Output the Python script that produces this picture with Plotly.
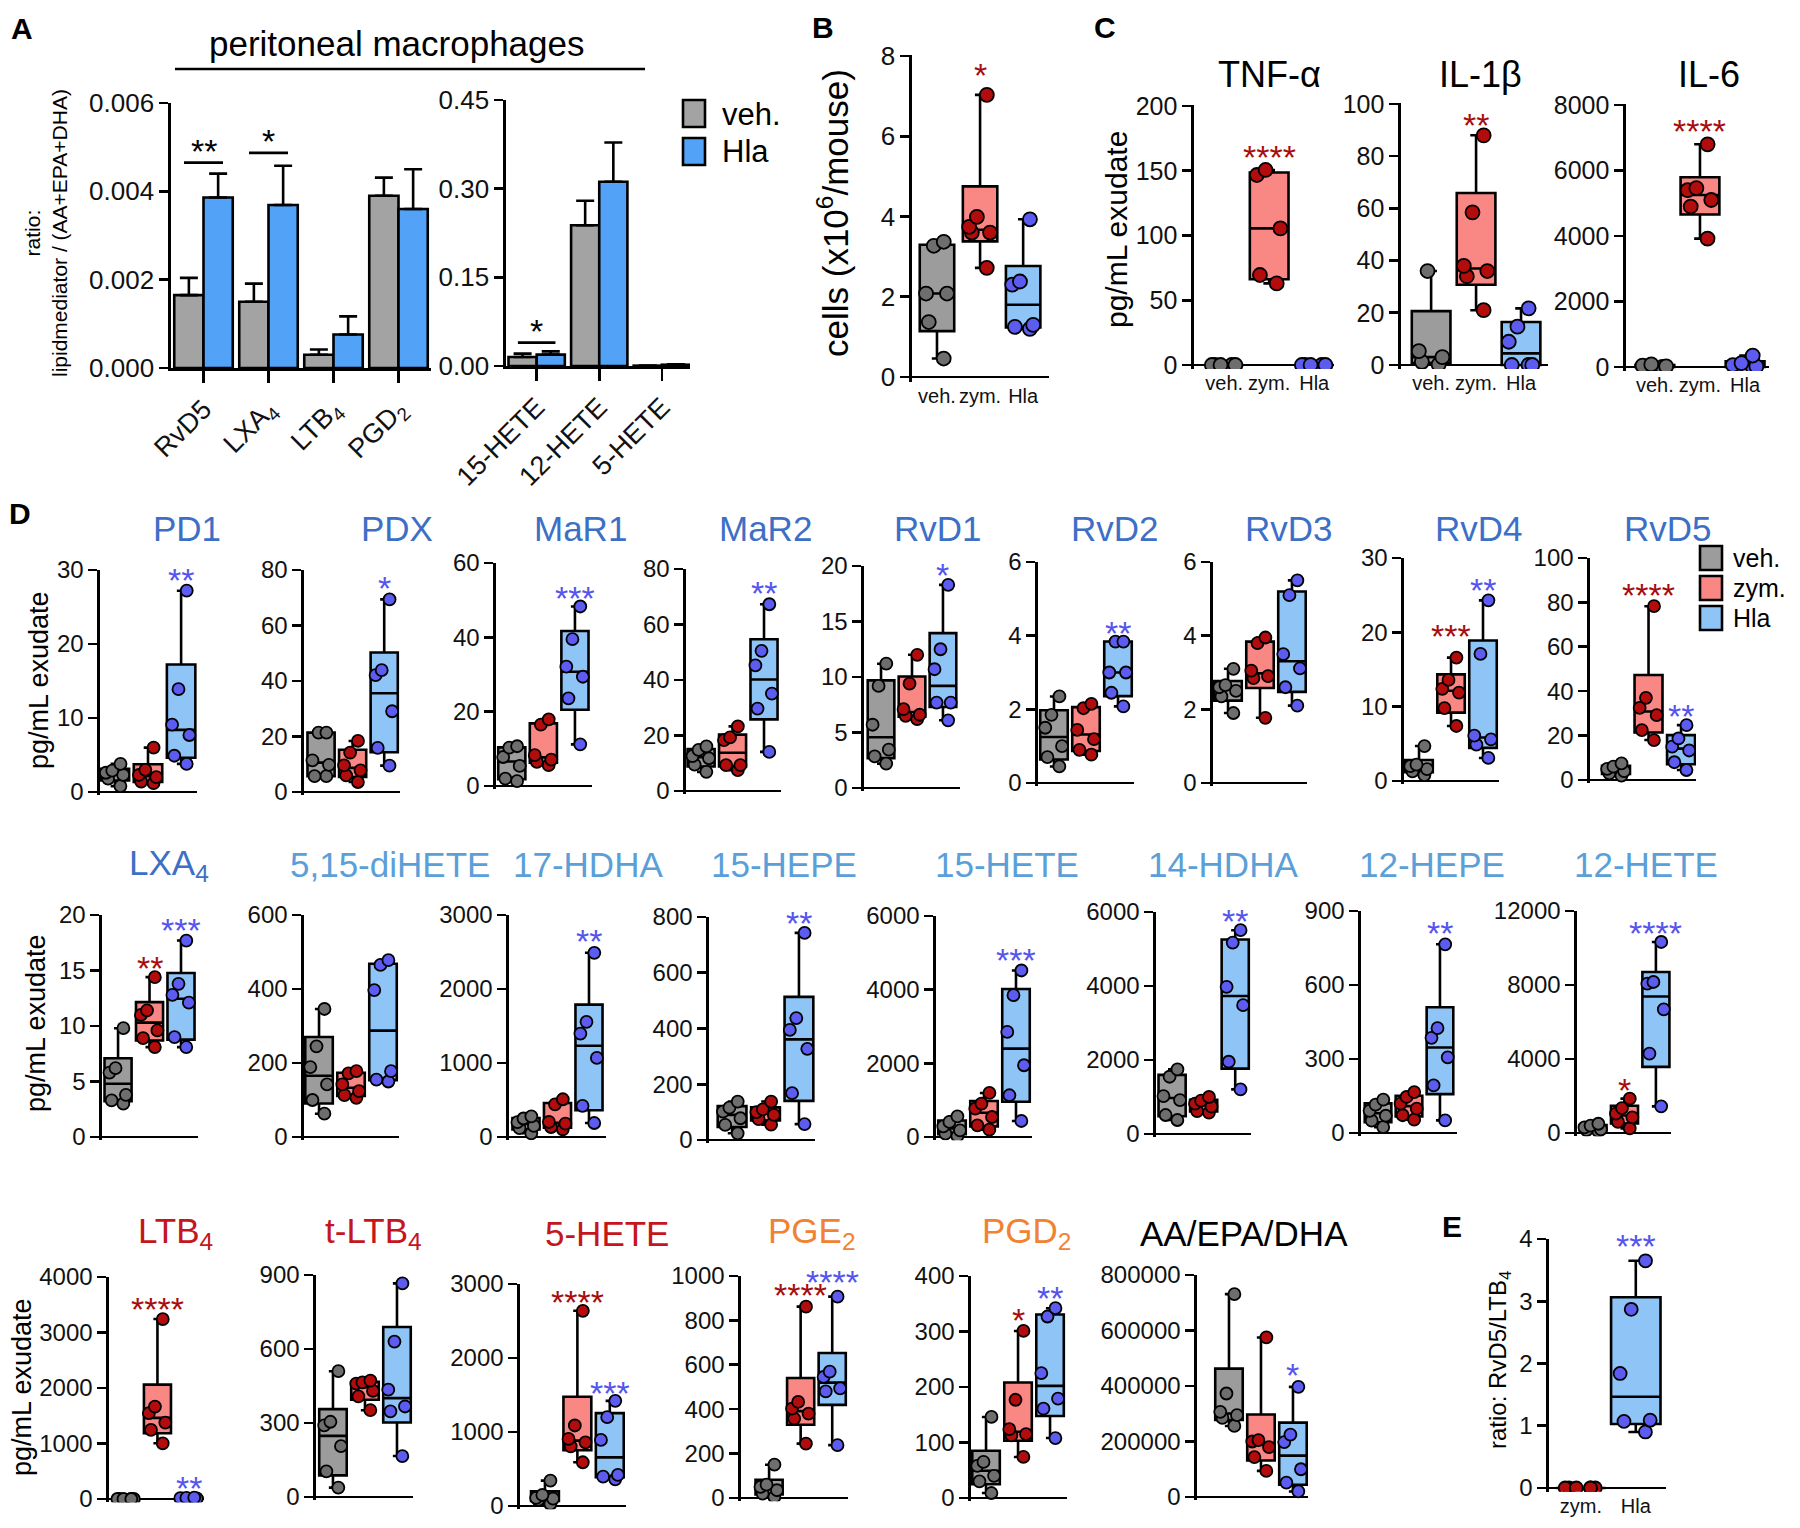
import numpy as np
import plotly.graph_objects as go

W, H = 1800, 1528
FONT = "Liberation Sans, Arial, sans-serif"

# ---------------- data ----------------
# A: ratio lipid mediator / (AA+EPA+DHA), mean with upper error
a_left_cats = ["RvD5", "LXA<sub>4</sub>", "LTB<sub>4</sub>", "PGD<sub>2</sub>"]
a_left_veh = [0.00165, 0.0015, 0.0003, 0.0039]
a_left_veh_err = [0.00039, 0.00041, 0.00012, 0.00041]
a_left_hla = [0.00386, 0.00369, 0.00076, 0.0036]
a_left_hla_err = [0.00054, 0.00089, 0.00041, 0.0009]
a_right_cats = ["15-HETE", "12-HETE", "5-HETE"]
a_right_veh = [0.0152, 0.238, 0.0006]
a_right_veh_err = [0.0057, 0.0415, 0.0]
a_right_hla = [0.0192, 0.3117, 0.0022]
a_right_hla_err = [0.0056, 0.0663, 0.0008]
a_left_sig = [(0, "**", 0.00465), (1, "*", 0.00487)]
a_right_sig = [(0, "*", 0.0395)]

# B: cells (x10^6/mouse)  [veh, zym, Hla]
cells = [[0.46, 1.37, 2.08, 2.08, 3.27, 3.37],
         [2.72, 3.6, 3.6, 3.74, 3.99, 7.03],
         [1.2, 1.25, 1.3, 2.3, 2.38, 3.93]]
# C: cytokines pg/mL
tnf = [[0, 0, 0, 0, 0], [63, 69.5, 105.5, 146.7, 150.6], [0, 0, 0, 0, 0]]
il1b = [[0.2, 1.2, 3.0, 5.3, 36], [21, 34, 36, 38, 58.5, 88], [0, 0, 0, 8.9, 14.7, 21.7]]
il6 = [[0, 10, 20, 40, 80], [3920, 4900, 5100, 5400, 5460, 6800], [0, 0, 20, 60, 120, 350]]

# D: pg/mL exudate  [veh, zym, Hla]
pd1 = [[0.8, 1.8, 2.3, 2.6, 2.9, 3.8], [1.2, 1.4, 2.0, 2.3, 3.0, 6.0], [3.8, 4.9, 7.7, 9.1, 13.9, 27.2]]
pdx = [[5.7, 5.7, 9.8, 11.4, 21.4, 21.4], [3.6, 6.0, 7.8, 9.6, 14.2, 18.4], [9.5, 15.9, 29.1, 42.1, 43.9, 69.4]]
mar1 = [[1.3, 2.0, 5.4, 7.8, 10.3, 10.7], [5.6, 6.5, 7.1, 8.3, 16.5, 17.9], [11.2, 23.6, 29.4, 32.1, 39.5, 48.3]]
mar2 = [[6.9, 9.5, 11.8, 12.6, 14.8, 16.1], [7.5, 9.3, 9.3, 18.3, 19.3, 23.3], [14.1, 29.7, 35.1, 45.3, 50.5, 67.3]]
rvd1 = [[2.2, 2.85, 3.45, 5.7, 9.2, 11.2], [6.2, 6.5, 6.6, 7.1, 9.4, 12.0], [6.1, 7.7, 7.7, 10.7, 12.5, 18.3]]
rvd2 = [[0.45, 0.7, 1.0, 1.5, 1.85, 2.35], [0.77, 0.9, 1.19, 1.44, 2.03, 2.15], [2.08, 2.45, 3.0, 3.0, 3.84, 3.84]]
rvd3 = [[1.9, 2.35, 2.5, 2.6, 2.66, 3.1], [1.77, 2.85, 2.9, 3.05, 3.8, 3.95], [2.1, 2.6, 3.11, 3.5, 5.1, 5.5]]
rvd4 = [[0.8, 1.3, 1.6, 2.0, 2.2, 4.7], [7.4, 9.8, 11.9, 12.4, 13.6, 16.6], [3.1, 4.9, 5.6, 6.1, 17.1, 24.3]]
rvd5 = [[2.0, 3.0, 4.0, 5.0, 6.0, 7.5], [18.0, 22.5, 29.2, 32.5, 37.0, 78.3], [4.5, 8.0, 13.3, 15.0, 18.7, 24.7]]
lxa4 = [[3.0, 3.3, 3.8, 5.8, 6.2, 9.8], [8.1, 8.9, 9.6, 11.0, 11.4, 14.4], [8.1, 9.0, 12.1, 12.8, 13.8, 17.7]]
dihete = [[63, 100, 142, 189, 245, 346], [106, 113, 124, 142, 172, 178], [150, 155, 178, 397, 465, 478]]
hdha17 = [[50, 120, 150, 200, 250, 280], [104, 135, 180, 203, 442, 510], [189, 420, 1069, 1398, 1556, 2489]]
hepe15 = [[24, 54, 78, 102, 116, 138], [55, 75, 90, 100, 110, 138], [57, 168, 327, 395, 437, 743]]
hete15 = [[27, 90, 181, 290, 408, 562], [199, 317, 543, 770, 906, 1196], [435, 1133, 1948, 2853, 3850, 4521]]
hdha14 = [[378, 513, 918, 1026, 1548, 1746], [580, 620, 740, 820, 900, 1000], [1206, 1953, 3483, 3978, 5175, 5508]]
hepe12 = [[24, 50, 70, 90, 115, 135], [54, 72, 99, 119, 146, 166], [51, 193, 307, 386, 425, 765]]
hete12 = [[100, 150, 200, 300, 400, 500], [250, 600, 850, 1050, 1350, 1856], [1441, 4289, 6685, 8073, 8163, 10325]]
ltb4 = [[0, 0, 0, 0, 0, 0], [1004, 1245, 1377, 1546, 1666, 3242], [0, 5, 10, 15, 20, 25]]
tltb4 = [[38, 104, 206, 290, 305, 510], [352, 408, 430, 460, 465, 472], [166, 347, 367, 435, 630, 866]]
hete5 = [[27, 81, 100, 110, 149, 343], [591, 807, 860, 907, 1088, 2638], [361, 397, 420, 893, 1200, 1421]]
pge2 = [[5, 20, 35, 50, 60, 150], [245, 358, 380, 403, 433, 862], [238, 480, 494, 545, 569, 907]]
pgd2 = [[9, 30, 40, 58, 65, 146], [74, 113, 115, 124, 177, 301], [108, 161, 179, 225, 327, 342]]
aaepadha = [[256000, 285000, 295000, 307000, 373000, 731000],
            [94000, 144000, 180000, 200000, 205000, 575000],
            [20000, 52000, 100000, 198000, 225000, 397000]]
# E: ratio RvD5/LTB4  [zym, Hla]
ratio_e = [[0, 0, 0, 0, 0, 0], [0.9, 1.07, 1.09, 1.84, 2.87, 3.65]]

group_labels = ["veh.", "zym.", "Hla"]

# significance stars: (group index, text, y value)
stars = {
    "cells": [(1, "*", 7.6)], "tnf": [(1, "****", 163)], "il1b": [(1, "**", 93)], "il6": [(1, "****", 7290)],
    "pd1": [(2, "**", 29)], "pdx": [(2, "*", 74.6)], "mar1": [(2, "***", 51.4)], "mar2": [(2, "**", 72.4)],
    "rvd1": [(2, "*", 19.5)], "rvd2": [(2, "**", 4.15)], "rvd3": [],
    "rvd4": [(1, "***", 19.9), (2, "**", 26.1)], "rvd5": [(1, "****", 84.7), (2, "**", 30)],
    "lxa4": [(1, "**", 15.5), (2, "***", 18.9)], "dihete": [], "hdha17": [(2, "**", 2683)],
    "hepe15": [(2, "**", 791)], "hete15": [(2, "***", 4892)], "hdha14": [(2, "**", 5832)],
    "hepe12": [(2, "**", 821)], "hete12": [(1, "*", 2487), (2, "****", 10956)],
    "ltb4": [(1, "****", 3470), (2, "**", 253)], "tltb4": [], "hete5": [(1, "****", 2803), (2, "***", 1565)],
    "pge2": [(1, "****", 930), (2, "****", 985)], "pgd2": [(1, "*", 327), (2, "**", 366)],
    "aaepadha": [(2, "*", 450000)], "ratio_e": [(1, "***", 3.93)],
}

# ---------------- style ----------------
BOX_FILL = ["#9c9c9c", "#f98784", "#8ec4f6"]
PT_COL = ["#6e6e6e", "#b30c0c", "#5c5cf0"]
STAR_COL = ["#222222", "#a80d0d", "#5555ee"]
BAR_COL = ["#a3a3a3", "#52a2f7"]
T_BLUE, T_LBLUE, T_RED, T_ORANGE = "#3d6fc6", "#5b9fd9", "#c4161c", "#f08232"

fig = go.Figure()
anns, shapes = [], []
axcount = [0]


def px(x):
    return x / W


def py(y):
    return 1 - y / H


def new_axes(x0, x1, xr, dom_top, dom_bot, yr):
    axcount[0] += 1
    s = "" if axcount[0] == 1 else str(axcount[0])
    fig.update_layout(**{
        "xaxis" + s: dict(domain=[px(x0), px(x1)], range=xr, anchor="y" + s, showgrid=False,
                          zeroline=False, fixedrange=True, automargin=False),
        "yaxis" + s: dict(domain=[py(dom_bot), py(dom_top)], range=yr, anchor="x" + s, showgrid=False,
                          showline=True, linecolor="black", linewidth=2.6, ticks="outside",
                          ticklen=9, tickwidth=2.6, tickcolor="black", fixedrange=True, automargin=False),
    })
    return "x" + s, "y" + s, "xaxis" + s, "yaxis" + s


def text(x, y, t, size, color="black", xanchor="center", yanchor="middle", **kw):
    anns.append(dict(x=px(x), y=py(y), xref="paper", yref="paper", text=t, showarrow=False,
                     xanchor=xanchor, yanchor=yanchor,
                     font=dict(family=FONT, size=size, color=color), **kw))


def box_panel(key, data, geo, ymax, dtick, groups=(0, 1, 2), title=None, tcolor="black",
              tfs=35, xlabels=False, psize=12, bw=0.86, tickfs=24):
    x0, x1, r0, r1, ytop, yzero = geo
    ppu = (yzero - ytop) / ymax
    lo, hi = -0.015 * ymax, ymax * 1.002
    xa, ya, xk, yk = new_axes(x0, x1, [r0, r1], yzero - hi * ppu, yzero - lo * ppu, [lo, hi])
    tv = np.arange(0, ymax + dtick / 2, dtick)
    fig.update_layout(**{
        yk: dict(tickvals=tv, ticktext=[f"{v:g}" if v < 1e5 else f"{int(v)}" for v in tv],
                 tickfont=dict(family=FONT, size=tickfs, color="#111"),
                 zeroline=True, zerolinecolor="black", zerolinewidth=2.6),
        xk: dict(showticklabels=xlabels, ticks="", tickvals=list(range(len(groups))),
                 ticktext=[group_labels[g] for g in groups], tickangle=0,
                 tickfont=dict(family=FONT, size=20, color="#111")),
    })
    for i, (g, vals) in enumerate(zip(groups, data)):
        q1, med, q3 = np.percentile(vals, [25, 50, 75], method="weibull")
        fig.add_trace(go.Box(x=[i], q1=[q1], median=[med], q3=[q3], lowerfence=[min(vals)],
                             upperfence=[max(vals)], width=bw, fillcolor=BOX_FILL[g], boxpoints=False,
                             line=dict(color="black", width=2.6), whiskerwidth=0.3,
                             xaxis=xa, yaxis=ya, showlegend=False, hoverinfo="skip"))
        fig.add_trace(go.Box(x=[i] * len(vals), y=vals, width=bw, boxpoints="all", jitter=0.75,
                             pointpos=0, fillcolor="rgba(0,0,0,0)",
                             line=dict(color="rgba(0,0,0,0)", width=0),
                             marker=dict(size=psize, color=PT_COL[g], line=dict(color="black", width=1.8)),
                             xaxis=xa, yaxis=ya, showlegend=False, hoverinfo="skip"))
    for gi, t, yv in stars.get(key, []):
        anns.append(dict(x=gi, y=yv, xref=xa, yref=ya, text=t, showarrow=False, yshift=-3,
                         font=dict(family=FONT, size=34, color=STAR_COL[groups[gi]])))
    if title:
        cx, cy = title
        text(cx, cy, title_text[key], tfs, tcolor)


def bar_panel(cats, veh, veh_err, hla, hla_err, geo, ymax, dtick, fmt, sig):
    x0, x1, r0, r1, ytop, yzero = geo
    xa, ya, xk, yk = new_axes(x0, x1, [r0, r1], ytop, yzero, [0, ymax])
    tv = np.arange(0, ymax + dtick / 2, dtick)
    fig.update_layout(**{
        yk: dict(tickvals=tv, ticktext=[fmt.format(v) for v in tv],
                 tickfont=dict(family=FONT, size=26, color="#111")),
        xk: dict(showline=True, linecolor="black", linewidth=2.6, ticks="outside", ticklen=12,
                 tickwidth=2.6, tickcolor="black", tickvals=list(range(len(cats))), ticktext=cats,
                 tickangle=-45, tickfont=dict(family=FONT, size=27, color="#111")),
    })
    xs = list(range(len(cats)))
    for vals, err, col in [(veh, veh_err, BAR_COL[0]), (hla, hla_err, BAR_COL[1])]:
        fig.add_trace(go.Bar(x=xs, y=vals, marker=dict(color=col, line=dict(color="black", width=2.6)),
                             error_y=dict(type="data", array=err, arrayminus=[0] * len(err), symmetric=False,
                                          color="black", thickness=2.6, width=9),
                             xaxis=xa, yaxis=ya, showlegend=False, hoverinfo="skip"))
    for i, t, yv in sig:
        fig.add_trace(go.Scatter(x=[i - 0.3, i + 0.3], y=[yv, yv], mode="lines",
                                 line=dict(color="black", width=2.6), xaxis=xa, yaxis=ya,
                                 showlegend=False, hoverinfo="skip"))
        anns.append(dict(x=i, y=yv, xref=xa, yref=ya, text=t, showarrow=False, yanchor="bottom",
                         yshift=-9, font=dict(family=FONT, size=34, color="black")))


title_text = {
    "tnf": "TNF-α", "il1b": "IL-1β", "il6": "IL-6",
    "pd1": "PD1", "pdx": "PDX", "mar1": "MaR1", "mar2": "MaR2", "rvd1": "RvD1", "rvd2": "RvD2",
    "rvd3": "RvD3", "rvd4": "RvD4", "rvd5": "RvD5",
    "lxa4": "LXA<sub>4</sub>", "dihete": "5,15-diHETE", "hdha17": "17-HDHA", "hepe15": "15-HEPE",
    "hete15": "15-HETE", "hdha14": "14-HDHA", "hepe12": "12-HEPE", "hete12": "12-HETE",
    "ltb4": "LTB<sub>4</sub>", "tltb4": "t-LTB<sub>4</sub>", "hete5": "5-HETE", "pge2": "PGE<sub>2</sub>",
    "pgd2": "PGD<sub>2</sub>", "aaepadha": "AA/EPA/DHA",
}

# ---------------- panel A ----------------
bar_panel(a_left_cats, a_left_veh, a_left_veh_err, a_left_hla, a_left_hla_err,
          (171, 431, -0.5, 3.5, 103, 368), 0.006, 0.002, "{:.3f}", a_left_sig)
bar_panel(a_right_cats, a_right_veh, a_right_veh_err, a_right_hla, a_right_hla_err,
          (506, 690, -0.49, 2.45, 100, 366), 0.45, 0.15, "{:.2f}", a_right_sig)
fig.update_layout(barmode="group", bargap=0.1, bargroupgap=0)
text(397, 43, "peritoneal macrophages", 35)
shapes.append(dict(type="line", xref="paper", yref="paper", x0=px(175), x1=px(645), y0=py(69), y1=py(69),
                   line=dict(color="black", width=2.6)))
text(46, 233, "ratio:<br>lipidmediator / (AA+EPA+DHA)", 21, textangle=-90)
for j, (lab, col) in enumerate([("veh.", BAR_COL[0]), ("Hla", BAR_COL[1])]):
    ytop = 100 + j * 38
    shapes.append(dict(type="rect", xref="paper", yref="paper", x0=px(683), x1=px(705),
                       y0=py(ytop + 27), y1=py(ytop), fillcolor=col, line=dict(color="black", width=2.6)))
    text(720, ytop + 14, lab, 31, xanchor="left")

# ---------------- panel B ----------------
box_panel("cells", cells, (912, 1049, -0.58, 2.6, 56, 377), 8, 2, xlabels=True, psize=14, bw=0.8, tickfs=26)
text(833, 213, "cells (x10<sup>6</sup>/mouse)", 35, textangle=-90)

# ---------------- panel C ----------------
box_panel("tnf", tnf, (1194, 1334, -0.67, 2.44, 106, 365), 200, 50, title=(1269, 75), tfs=36,
          xlabels=True, psize=14, bw=0.86, tickfs=25)
box_panel("il1b", il1b, (1401, 1548, -0.67, 2.6, 104, 365), 100, 20, title=(1480, 75), tfs=36,
          xlabels=True, psize=14, bw=0.86, tickfs=25)
box_panel("il6", il6, (1626, 1769, -0.64, 2.53, 105, 367), 8000, 2000, title=(1709, 75), tfs=36,
          xlabels=True, psize=14, bw=0.86, tickfs=25)
text(1116, 230, "pg/mL exudate", 30, textangle=-90)

# ---------------- panel D ----------------
row1 = [("pd1", pd1, (100, 197, -0.45, 2.48, 570, 792), 30, 10, 187),
        ("pdx", pdx, (304, 400, -0.54, 2.5, 570, 792), 80, 20, 397),
        ("mar1", mar1, (496, 592, -0.5, 2.54, 563, 786), 60, 20, 580),
        ("mar2", mar2, (686, 781, -0.48, 2.54, 569, 791), 80, 20, 765),
        ("rvd1", rvd1, (864, 960, -0.55, 2.55, 566, 788), 20, 5, 938),
        ("rvd2", rvd2, (1038, 1134, -0.5, 2.5, 562, 783), 6, 2, 1115),
        ("rvd3", rvd3, (1213, 1307, -0.47, 2.47, 562, 783), 6, 2, 1289),
        ("rvd4", rvd4, (1404, 1499, -0.47, 2.5, 558, 781), 30, 10, 1479),
        ("rvd5", rvd5, (1590, 1696, -0.8, 2.46, 558, 780), 100, 20, 1668)]
for key, d, geo, ymax, dt, tx in row1:
    box_panel(key, d, geo, ymax, dt, title=(tx, 528), tcolor=T_BLUE)

row2 = [("lxa4", lxa4, (102, 198, -0.51, 2.54, 915, 1137), 20, 5, 169, T_BLUE),
        ("dihete", dihete, (304, 399, -0.47, 2.5, 915, 1137), 600, 200, 390, T_LBLUE),
        ("hdha17", hdha17, (509, 606, -0.54, 2.54, 915, 1137), 3000, 1000, 588, T_LBLUE),
        ("hepe15", hepe15, (709, 815, -0.69, 2.48, 917, 1140), 800, 200, 784, T_LBLUE),
        ("hete15", hete15, (936, 1032, -0.5, 2.5, 916, 1137), 6000, 2000, 1007, T_LBLUE),
        ("hdha14", hdha14, (1156, 1251, -0.51, 2.5, 912, 1134), 6000, 2000, 1223, T_LBLUE),
        ("hepe12", hepe12, (1361, 1457, -0.55, 2.55, 911, 1133), 900, 300, 1432, T_LBLUE),
        ("hete12", hete12, (1577, 1671, -0.51, 2.48, 911, 1133), 12000, 4000, 1646, T_LBLUE)]
for key, d, geo, ymax, dt, tx, tc in row2:
    box_panel(key, d, geo, ymax, dt, title=(tx, 865), tcolor=tc)

row3 = [("ltb4", ltb4, (109, 204, -0.54, 2.48, 1277, 1499), 4000, 1000, 175, T_RED),
        ("tltb4", tltb4, (316, 413, -0.53, 2.5, 1275, 1497), 900, 300, 373, T_RED),
        ("hete5", hete5, (520, 626, -0.77, 2.5, 1284, 1506), 3000, 1000, 607, T_RED),
        ("pge2", pge2, (741, 848, -0.89, 2.5, 1276, 1498), 1000, 200, 812, T_ORANGE),
        ("pgd2", pgd2, (971, 1067, -0.47, 2.53, 1276, 1498), 400, 100, 1027, T_ORANGE),
        ("aaepadha", aaepadha, (1197, 1308, -1.0, 2.47, 1275, 1497), 800000, 200000, 1244, "black")]
for key, d, geo, ymax, dt, tx, tc in row3:
    box_panel(key, d, geo, ymax, dt, title=(tx, 1233), tcolor=tc)

for yc, xc in [(680, 39), (1023, 36), (1387, 22)]:
    text(xc, yc, "pg/mL exudate", 27, textangle=-90)

# legend D
for j, g in enumerate([0, 1, 2]):
    yc = 558 + j * 30
    shapes.append(dict(type="rect", xref="paper", yref="paper", x0=px(1700), x1=px(1722),
                       y0=py(yc + 12), y1=py(yc - 12), fillcolor=BOX_FILL[g],
                       line=dict(color="black", width=2.6)))
    text(1731, yc, group_labels[g], 25, xanchor="left")

# ---------------- panel E ----------------
box_panel("ratio_e", ratio_e, (1549, 1666, -0.58, 1.55, 1239, 1488), 4, 1, groups=(1, 2),
          xlabels=True, psize=13, bw=0.9)
text(1499, 1360, "ratio: RvD5/LTB<sub>4</sub>", 24, textangle=-90)

# panel letters
for lab, x, y in [("A", 22, 28), ("B", 823, 27), ("C", 1105, 27), ("D", 20, 513), ("E", 1452, 1226)]:
    text(x, y, "<b>" + lab + "</b>", 30)

fig.update_layout(width=W, height=H, margin=dict(l=0, r=0, t=0, b=0, autoexpand=False),
                  paper_bgcolor="white", plot_bgcolor="white", boxmode="overlay",
                  annotations=anns, shapes=shapes, font=dict(family=FONT))
fig.write_html("out.html", config={"displayModeBar": False, "staticPlot": True},
               post_script="document.body.style.margin='0';document.body.style.overflow='hidden';")
